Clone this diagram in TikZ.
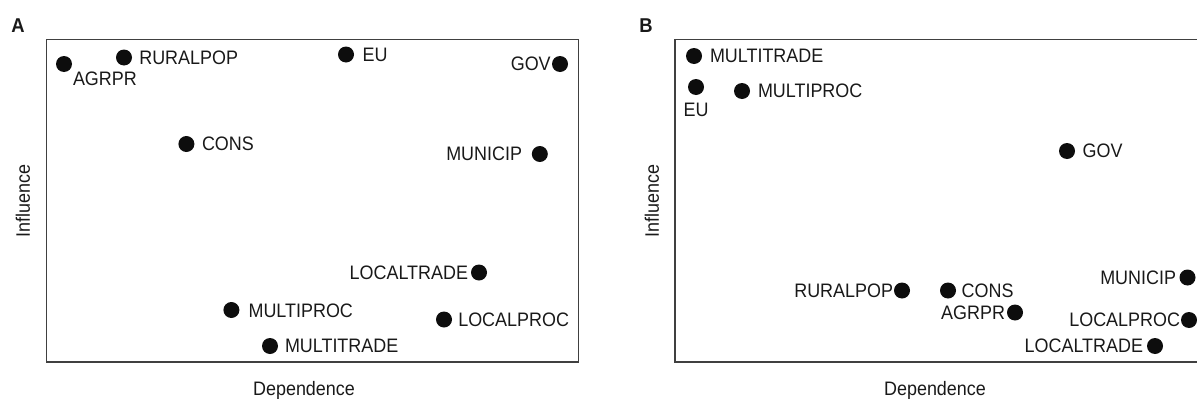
\documentclass[tikz,border=0pt]{standalone}
\usepackage{fontspec}
\setmainfont{Liberation Sans}[FakeStretch=0.92]
\begin{document}
\begin{tikzpicture}[x=1pt,y=-1pt,
  every node/.style={inner sep=0pt,outer sep=0pt,font=\fontsize{19.5}{22}\selectfont,text=black!90},
  dot/.style={circle,fill=black!95,minimum size=16pt},
  lbl/.style={},
  frame/.style={draw=black!75,line width=1.4pt},
  panel/.style={font=\fontsize{20}{22}\selectfont\bfseries},
  axis/.style={}]
\useasboundingbox (0,0) rectangle (1197,399);
% ---------- Panel A ----------
\node[panel] (pa) at (18,26) {A};
\node[draw=none,minimum width=531.6pt,minimum height=322.7pt,anchor=north west,frame] (boxA) at (46.7,39.3) {};
\node[axis,rotate=90] (infA) at (23,200.6) {Influence};
\node[axis] (depA) at (304,390) {Dependence};
\node[dot] (a1) at (64,64) {};
\node[lbl,anchor=west] (a1l) at (73,78.5) {AGRPR};
\node[dot] (a2) at (124,57.5) {};
\node[lbl,anchor=west] (a2l) at (139.3,57.5) {RURALPOP};
\node[dot] (a3) at (346,54.5) {};
\node[lbl,anchor=west] (a3l) at (362.7,54.5) {EU};
\node[dot] (a4) at (560,64) {};
\node[lbl,anchor=east] (a4l) at (550.7,64) {GOV};
\node[dot] (a5) at (186.4,144) {};
\node[lbl,anchor=west] (a5l) at (202,144) {CONS};
\node[dot] (a6) at (539.8,154) {};
\node[lbl,anchor=east] (a6l) at (522,154) {MUNICIP};
\node[dot] (a7) at (479,272.5) {};
\node[lbl,anchor=east] (a7l) at (468,272.5) {LOCALTRADE};
\node[dot] (a8) at (231.4,310) {};
\node[lbl,anchor=west] (a8l) at (248.6,310.5) {MULTIPROC};
\node[dot] (a9) at (444,319.5) {};
\node[lbl,anchor=west] (a9l) at (458.3,320) {LOCALPROC};
\node[dot] (a10) at (270,346) {};
\node[lbl,anchor=west] (a10l) at (285,346) {MULTITRADE};
% ---------- Panel B ----------
\node[panel] (pb) at (646,26) {B};
\coordinate (bTR) at (1197,39.3);
\coordinate (bTL) at (675,39.3);
\coordinate (bBL) at (675,362);
\coordinate (bBR) at (1197,362);
\draw[frame] (bTR) -- (bTL) -- (bBL) -- (bBR);
\node[axis,rotate=90] (infB) at (652,200.6) {Influence};
\node[axis] (depB) at (935,390) {Dependence};
\node[dot] (b1) at (694,56) {};
\node[lbl,anchor=west] (b1l) at (710,56) {MULTITRADE};
\node[dot] (b2) at (696,87) {};
\node[lbl] (b2l) at (696,109.5) {EU};
\node[dot] (b3) at (742,91) {};
\node[lbl,anchor=west] (b3l) at (758,91) {MULTIPROC};
\node[dot] (b4) at (1067,151) {};
\node[lbl,anchor=west] (b4l) at (1082.7,151) {GOV};
\node[dot] (b5) at (902,290.5) {};
\node[lbl,anchor=east] (b5l) at (893,290.5) {RURALPOP};
\node[dot] (b6) at (948,290.5) {};
\node[lbl,anchor=west] (b6l) at (961.7,290.5) {CONS};
\node[dot] (b7) at (1015,312.5) {};
\node[lbl,anchor=east] (b7l) at (1005,312.5) {AGRPR};
\node[dot] (b8) at (1187.5,277.5) {};
\node[lbl,anchor=east] (b8l) at (1176,277.5) {MUNICIP};
\node[dot] (b9) at (1189,320) {};
\node[lbl,anchor=east] (b9l) at (1180,320) {LOCALPROC};
\node[dot] (b10) at (1155,346) {};
\node[lbl,anchor=east] (b10l) at (1143,346) {LOCALTRADE};
\end{tikzpicture}
\end{document}
